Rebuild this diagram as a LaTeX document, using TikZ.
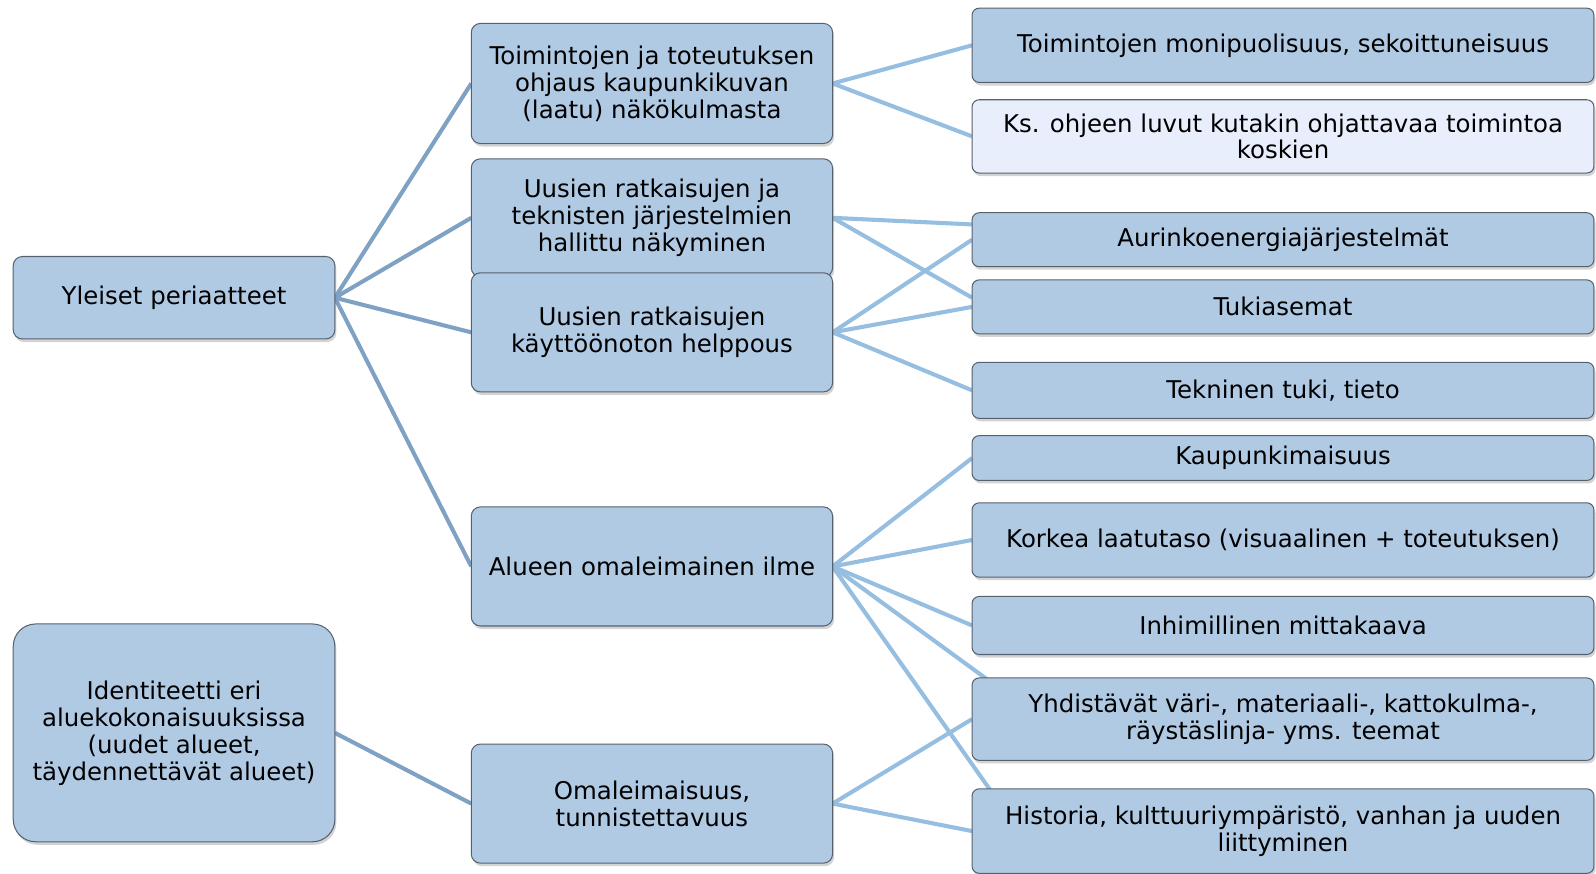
\documentclass[tikz,border=0pt]{standalone}
\usepackage{fontspec}
\setmainfont{DejaVu Sans}
\usetikzlibrary{shadows}
\pgfdeclarelayer{background}
\pgfsetlayers{background,main}
\definecolor{boxfill}{HTML}{B0CAE4}
\definecolor{boxline}{HTML}{56616E}
\definecolor{lightfill}{HTML}{E8EEFB}
\definecolor{lineA}{HTML}{7EA1C4}
\definecolor{lineB}{HTML}{95BEE0}
\tikzset{
 box/.style={rectangle, rounded corners=9pt, draw=boxline, line width=1pt, fill=boxfill,
   align=center, inner sep=0pt, outer sep=0pt, font=\fontsize{24}{26.5}\selectfont,
   drop shadow={shadow xshift=1.5pt, shadow yshift=-3pt, opacity=0.35}},
 leftbox/.style={box, minimum width=316pt},
 midbox/.style={box, minimum width=355pt},
 rightbox/.style={box, minimum width=611pt, rounded corners=7pt},
 conA/.style={draw=lineA, line width=4pt},
 conB/.style={draw=lineB, line width=4pt},
}
\begin{document}
\begin{tikzpicture}[x=1pt,y=-1pt]
\useasboundingbox (0,0) rectangle (1568,857.7);
% left column
\node[leftbox, minimum height=81pt] (yl) at (171,292.5) {Yleiset periaatteet};
\node[leftbox, minimum height=214pt, rounded corners=22pt] (id) at (171,720) {Identiteetti eri\\aluekokonaisuuksissa\\(uudet alueet,\\täydennettävät alueet)};
% middle column
\node[midbox, minimum height=118pt] (t1) at (640.5,82) {Toimintojen ja toteutuksen\\ohjaus kaupunkikuvan\\(laatu) näkökulmasta};
\node[midbox, minimum height=116pt] (u1) at (640.5,214) {Uusien ratkaisujen ja\\teknisten järjestelmien\\hallittu näkyminen};
\node[midbox, minimum height=117pt] (u2) at (640.5,326.5) {Uusien ratkaisujen\\käyttöönoton helppous};
\node[midbox, minimum height=117pt] (al) at (640.5,556.5) {Alueen omaleimainen ilme};
\node[midbox, minimum height=117pt] (om) at (640.5,789.5) {Omaleimaisuus,\\tunnistettavuus};
% right column
\node[rightbox, minimum height=73pt] (r1) at (1260.5,44.5) {Toimintojen monipuolisuus, sekoittuneisuus};
\node[rightbox, minimum height=72pt, fill=lightfill] (ks) at (1260.5,134) {Ks. ohjeen luvut kutakin ohjattavaa toimintoa\\koskien};
\node[rightbox, minimum height=53pt] (aur) at (1260.5,235.5) {Aurinkoenergiajärjestelmät};
\node[rightbox, minimum height=53pt] (tuk) at (1260.5,301.5) {Tukiasemat};
\node[rightbox, minimum height=55pt] (tek) at (1260.5,383.5) {Tekninen tuki, tieto};
\node[rightbox, minimum height=44pt] (kau) at (1260.5,450) {Kaupunkimaisuus};
\node[rightbox, minimum height=73pt] (kor) at (1260.5,530.5) {Korkea laatutaso (visuaalinen + toteutuksen)};
\node[rightbox, minimum height=57pt] (inh) at (1260.5,614.5) {Inhimillinen mittakaava};
\node[rightbox, minimum height=81pt] (yhd) at (1260.5,706.5) {Yhdistävät väri-, materiaali-, kattokulma-,\\räystäslinja- yms. teemat};
\node[rightbox, minimum height=83pt] (his) at (1260.5,816.5) {Historia, kulttuuriympäristö, vanhan ja uuden\\liittyminen};
% connectors
\begin{pgfonlayer}{background}
\draw[conA] (yl.east) -- (t1.west);
\draw[conA] (yl.east) -- (u1.west);
\draw[conA] (yl.east) -- (u2.west);
\draw[conA] (yl.east) -- (al.west);
\draw[conA] (id.east) -- (om.west);
\draw[conB] (t1.east) -- (r1.west);
\draw[conB] (t1.east) -- (ks.west);
\draw[conB] (u1.east) -- ([yshift=15pt]aur.west);
\draw[conB] (u1.east) -- ([yshift=9pt]tuk.west);
\draw[conB] (u2.east) -- (aur.west);
\draw[conB] (u2.east) -- (tuk.west);
\draw[conB] (u2.east) -- (tek.west);
\draw[conB] (al.east) -- (kau.west);
\draw[conB] (al.east) -- (kor.west);
\draw[conB] (al.east) -- (inh.west);
\draw[conB] (al.east) -- ([xshift=45pt,yshift=17pt]yhd.west);
\draw[conB] (al.east) -- ([xshift=35pt,yshift=16pt]his.west);
\draw[conB] (om.east) -- (yhd.west);
\draw[conB] (om.east) -- (his.west);
\end{pgfonlayer}
\end{tikzpicture}
\end{document}
